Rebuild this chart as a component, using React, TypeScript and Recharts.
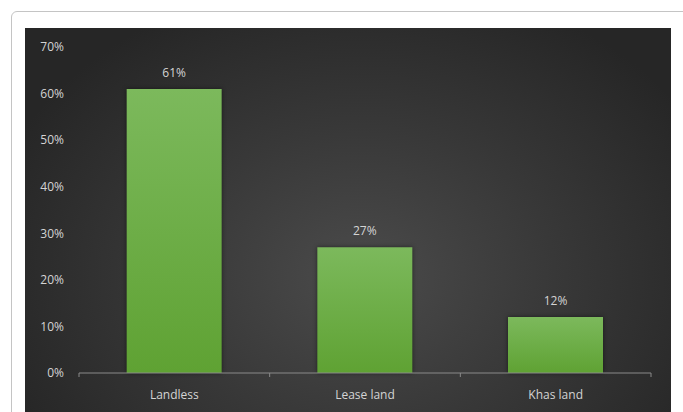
import { BarChart, Bar, XAxis, YAxis, LabelList } from 'recharts';

const categories = ['Landless', 'Lease land', 'Khas land'];
const shares = [61, 27, 12];
const yTicks = [0, 10, 20, 30, 40, 50, 60, 70];

const data = categories.map((name, i) => ({ name, value: shares[i] }));

const textColor = '#d4d4d4';
const axisColor = '#8a8a8a';
const font = '"Open Sans", "DejaVu Sans", sans-serif';

function CategoryTick(props: any) {
  const { x, y, payload, index, width, visibleTicksCount } = props;
  const band = width / visibleTicksCount;
  return (
    <g>
      <line x1={x - band / 2} x2={x - band / 2} y1={y} y2={y + 4} stroke={axisColor} />
      {index === visibleTicksCount - 1 && (
        <line x1={x + band / 2} x2={x + band / 2} y1={y} y2={y + 4} stroke={axisColor} />
      )}
      <text x={x} y={y + 26} textAnchor="middle" fill={textColor} fontSize={12} fontFamily={font}>
        {payload.value}
      </text>
    </g>
  );
}

export default function App() {
  return (
    <div style={{ position: 'absolute', left: 0, top: 0, width: 683, height: 412, overflow: 'hidden', background: '#fff' }}>
      <div
        style={{
          position: 'absolute',
          left: 11,
          top: 11,
          width: 720,
          height: 440,
          border: '1px solid #c4c4c4',
          borderRadius: 6,
        }}
      />
      <div
        style={{
          position: 'absolute',
          left: 25,
          top: 28,
          width: 646,
          height: 400,
          background: 'radial-gradient(ellipse 60% 75% at 52% 62%, #4b4b4b 0%, #383838 50%, #262626 100%)',
        }}
      />
      <div style={{ position: 'absolute', left: 0, top: 0 }}>
        <BarChart
          width={683}
          height={412}
          data={data}
          margin={{ top: 47, right: 32, bottom: 0, left: 25 }}
          barCategoryGap="25%"
        >
          <defs>
            <linearGradient id="barFill" x1="0" y1="0" x2="0" y2="1">
              <stop offset="0%" stopColor="#7cb95c" />
              <stop offset="100%" stopColor="#5fa233" />
            </linearGradient>
          </defs>
          <XAxis
            dataKey="name"
            stroke={axisColor}
            tickLine={false}
            tickSize={0}
            tickMargin={0}
            height={39}
            interval={0}
            tick={<CategoryTick />}
          />
          <YAxis
            domain={[0, 70]}
            ticks={yTicks}
            tickFormatter={(v: number) => `${v}%`}
            axisLine={false}
            tickLine={false}
            tickSize={0}
            tickMargin={15}
            width={54}
            tick={{ fill: textColor, fontSize: 12, fontFamily: font }}
          />
          <Bar
            dataKey="value"
            fill="url(#barFill)"
            isAnimationActive={false}
            style={{ filter: 'drop-shadow(0 0 2px rgba(0,0,0,0.5))' }}
          >
            <LabelList
              dataKey="value"
              position="top"
              offset={12}
              formatter={(v: any) => `${v}%`}
              fill={textColor}
              fontSize={12}
              fontFamily={font}
            />
          </Bar>
        </BarChart>
      </div>
    </div>
  );
}
